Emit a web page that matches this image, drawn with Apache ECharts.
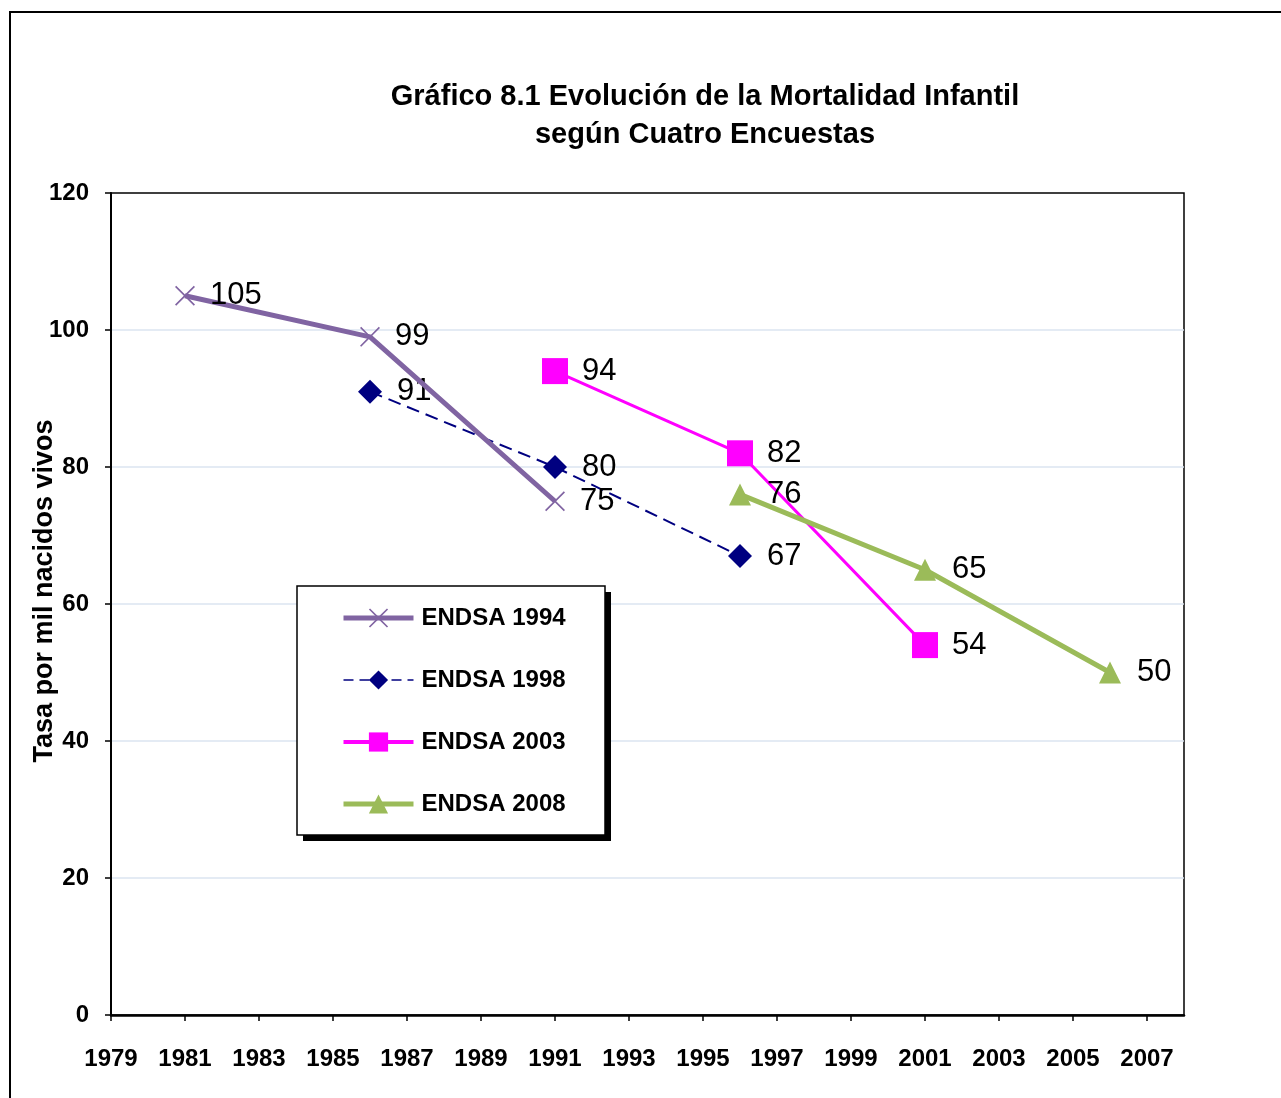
<!DOCTYPE html>
<html><head><meta charset="utf-8">
<script src="https://cdn.jsdelivr.net/npm/echarts@6/dist/echarts.min.js"></script>
<style>html,body{margin:0;padding:0;background:#fff}#c{width:1281px;height:1098px}</style>
</head><body><div id="c"></div>
<script>
const seriesNames = ['ENDSA 1994','ENDSA 1998','ENDSA 2003','ENDSA 2008'];
const x1994 = [1981,1986,1991]; const v1994 = [105,99,75];
const x1998 = [1986,1991,1996]; const v1998 = [91,80,67];
const x2003 = [1991,1996,2001]; const v2003 = [94,82,54];
const x2008 = [1996,2001,2006]; const v2008 = [76,65,50];
const xTickYears = [1979,1981,1983,1985,1987,1989,1991,1993,1995,1997,1999,2001,2003,2005,2007];
const titleLines = ['Gráfico 8.1 Evolución de la Mortalidad Infantil','según Cuatro Encuestas'];
const yName = 'Tasa por mil nacidos vivos';

const NARROW = "'Liberation Sans Narrow','Arial Narrow','Liberation Sans',sans-serif";
const SANS = "'Liberation Sans',Arial,sans-serif";
const zip = (xs, vs) => xs.map((x,i)=>[x, vs[i]]);
const xPath = 'path://M0,0.6 L0.6,0 L5,4.4 L9.4,0 L10,0.6 L5.6,5 L10,9.4 L9.4,10 L5,5.6 L0.6,10 L0,9.4 L4.4,5 Z';

const lbl = (dist) => ({show:true, position:'right', distance:dist, color:'#000', fontFamily:SANS, fontSize:31});

const chart = echarts.init(document.getElementById('c'), null, {renderer:'canvas'});
chart.setOption({
  animation:false,
  backgroundColor:'#fff',
  graphic:[
    {type:'rect', shape:{x:10,y:12,width:1300,height:1100}, style:{fill:'none', stroke:'#000', lineWidth:2}, z:-10},
    {type:'text', x:705, y:97, style:{text:titleLines[0], fontFamily:NARROW, fontWeight:'bold', fontSize:29, fill:'#000', align:'center', verticalAlign:'middle'}},
    {type:'text', x:705, y:135, style:{text:titleLines[1], fontFamily:NARROW, fontWeight:'bold', fontSize:29, fill:'#000', align:'center', verticalAlign:'middle'}},
    {type:'text', x:45, y:591, rotation:Math.PI/2, style:{text:yName, fontFamily:NARROW, fontWeight:'bold', fontSize:27, fill:'#000', align:'center', verticalAlign:'middle'}},
    {type:'rect', shape:{x:303,y:592,width:308,height:249}, style:{fill:'#000'}, z:50},
    {type:'rect', shape:{x:297,y:586,width:308,height:249}, style:{fill:'#fff', stroke:'#000', lineWidth:1.5}, z:51}
  ],
  grid:{left:111, right:97, top:193, bottom:83, show:true, borderColor:'#000', borderWidth:1.5, backgroundColor:'transparent'},
  legend:{
    orient:'vertical', left:341, top:606, z:60,
    data:[
      {name:seriesNames[0], lineStyle:{width:5}},
      {name:seriesNames[1], lineStyle:{width:1.5, type:[10,6]}},
      {name:seriesNames[2], lineStyle:{width:4}},
      {name:seriesNames[3], lineStyle:{width:5}}
    ],
    padding:0, itemGap:38, itemWidth:70, itemHeight:24,
    textStyle:{fontFamily:NARROW, fontWeight:'bold', fontSize:24, color:'#000', lineHeight:24, padding:[0,0,0,3]}
  },
  xAxis:{
    type:'value', min:1979, max:2008,
    axisLine:{lineStyle:{color:'#000', width:2.5}},
    axisTick:{show:true, length:6, lineStyle:{color:'#000', width:1.5}, customValues:xTickYears},
    axisLabel:{customValues:xTickYears, formatter:(v)=>String(v), margin:32, fontFamily:NARROW, fontWeight:'bold', fontSize:24, color:'#000'},
    splitLine:{show:false}
  },
  yAxis:{
    type:'value', min:0, max:120, interval:20,
    axisLine:{show:true, lineStyle:{color:'#000', width:2}},
    axisTick:{show:true, length:6, lineStyle:{color:'#000', width:1.5}},
    axisLabel:{margin:22, fontFamily:NARROW, fontWeight:'bold', fontSize:24, color:'#000'},
    splitLine:{show:true, showMinLine:false, showMaxLine:false, lineStyle:{color:'#dbe5f1', width:1.5}}
  },
  series:[
    {name:seriesNames[0], type:'line', data:zip(x1994,v1994), z:4,
     symbol:xPath, symbolSize:20, color:'#8064a2',
     itemStyle:{color:'#8064a2'}, lineStyle:{color:'#8064a2', width:5}, label:lbl(15)},
    {name:seriesNames[1], type:'line', data:zip(x1998,v1998), z:3,
     symbol:'diamond', symbolSize:24, color:'#000080',
     itemStyle:{color:'#000080'}, lineStyle:{color:'#000080', width:2, type:[13,7]}, label:lbl(15)},
    {name:seriesNames[2], type:'line', data:zip(x2003,v2003), z:5,
     symbol:'rect', symbolSize:26, color:'#ff00ff',
     itemStyle:{color:'#ff00ff'}, lineStyle:{color:'#ff00ff', width:3}, label:lbl(14)},
    {name:seriesNames[3], type:'line', data:zip(x2008,v2008), z:6,
     symbol:'triangle', symbolSize:22, color:'#9bbb59',
     itemStyle:{color:'#9bbb59'}, lineStyle:{color:'#9bbb59', width:5}, label:lbl(16)}
  ]
});
</script></body></html>
